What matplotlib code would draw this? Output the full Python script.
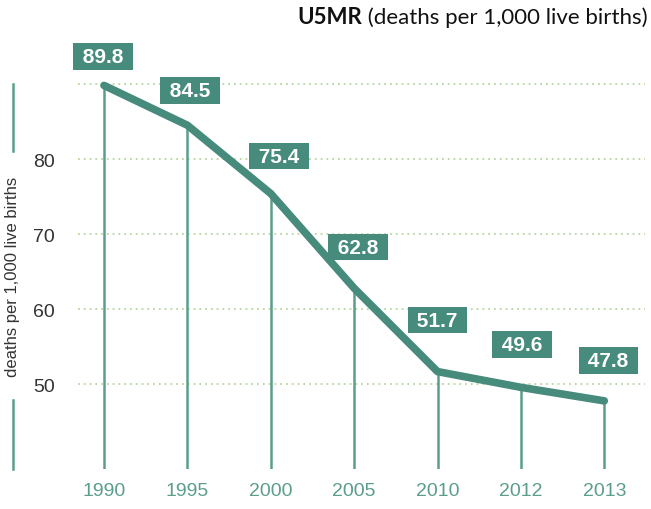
import numpy as np
import matplotlib
matplotlib.use('Agg')
import matplotlib.pyplot as plt
from matplotlib.lines import Line2D

plt.rcParams['font.family'] = ['Liberation Sans', 'DejaVu Sans']

years = ['1990', '1995', '2000', '2005', '2010', '2012', '2013']
u5mr = [89.8, 84.5, 75.4, 62.8, 51.7, 49.6, 47.8]
y_ticks = [50, 60, 70, 80]
grid_levels = [50, 60, 70, 80, 90]

teal = '#468b7b'
teal_light = '#5c9d8d'
grid_green = '#b6d7a0'

# label offsets (points) above each data point
label_dx = [-0.7, 2, 6, 3, 0, 0.7, 3]
label_dy = [21, 25, 27, 29.5, 37, 31, 29]

fig = plt.figure(figsize=(6.51, 5.10), dpi=100)
ax = fig.add_axes([0.12, 0.078, 0.871, 0.863])

x = np.arange(len(years))
ybot = 38.7

for lev in grid_levels:
    ax.axhline(lev, color=grid_green, linestyle=(0, (1, 2.2)), linewidth=1.3, zorder=1)

ax.vlines(x, ybot, u5mr, color=teal_light, linewidth=1.8, zorder=2)
ax.plot(x, u5mr, color=teal, linewidth=5.5, solid_capstyle='round',
        solid_joinstyle='round', zorder=3)

for xi, val, dx, dy in zip(x, u5mr, label_dx, label_dy):
    ax.annotate(' {:.1f} '.format(val), (xi, val), xytext=(dx, dy),
                textcoords='offset points', ha='center', va='center',
                color='white', fontsize=15, fontweight='bold', zorder=4,
                bbox=dict(boxstyle='square,pad=0.18', fc=teal, ec='none'))

ax.set_xlim(-0.31, 6.49)
ax.set_ylim(ybot, 97.3)
ax.set_xticks(x)
ax.set_xticklabels(years, color=teal_light, fontsize=14)
ax.set_yticks(y_ticks)
ax.set_yticklabels([str(t) for t in y_ticks], color='#333333', fontsize=14)
ax.tick_params(axis='both', length=0)
ax.tick_params(axis='y', pad=17)
ax.tick_params(axis='x', pad=9)
for sp in ax.spines.values():
    sp.set_visible(False)

# y label with decorative lines
fig.text(13 / 651, 1 - 277 / 510, 'deaths per 1,000 live births', rotation=90,
         ha='center', va='center', fontsize=12, color='#333333')
fig.add_artist(Line2D([13 / 651, 13 / 651], [1 - 85 / 510, 1 - 152 / 510],
                      color=teal_light, linewidth=1.8))
fig.add_artist(Line2D([13 / 651, 13 / 651], [1 - 401 / 510, 1 - 470 / 510],
                      color=teal_light, linewidth=1.8))

# title top right
t2 = fig.text(648 / 651, 1 - 18 / 510, ' (deaths per 1,000 live births)',
              ha='right', va='center', fontsize=16, color='#111111',
              family=['Lato', 'DejaVu Sans'])
fig.canvas.draw()
bb = t2.get_window_extent()
fig.text(bb.x0 / fig.bbox.width, 1 - 18 / 510, 'U5MR', ha='right', va='center',
         fontsize=16, fontweight='bold', color='#111111',
         family=['Lato', 'DejaVu Sans'])

fig.savefig('out.png', dpi=100)
